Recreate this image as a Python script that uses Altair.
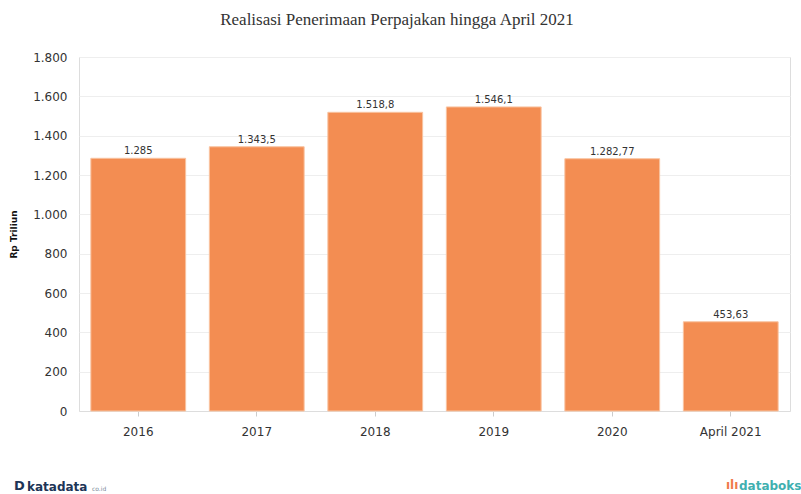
import altair as alt
import pandas as pd

categories = ["2016", "2017", "2018", "2019", "2020", "April 2021"]
values = [1285, 1343.5, 1518.8, 1546.1, 1282.77, 453.63]
value_labels = ["1.285", "1.343,5", "1.518,8", "1.546,1", "1.282,77", "453,63"]
y_ticks = [0, 200, 400, 600, 800, 1000, 1200, 1400, 1600, 1800]

df = pd.DataFrame({"cat": categories, "val": values, "lab": value_labels})

x = alt.X("cat:N", sort=categories, title=None,
          scale=alt.Scale(paddingInner=0.2, paddingOuter=0.1),
          axis=alt.Axis(labelAngle=0, labelFont="DejaVu Sans", labelFontSize=12,
                        labelColor="#333333", labelPadding=10, tickColor="#cccccc",
                        tickSize=5, domainColor="#dddddd", grid=False))
y = alt.Y("val:Q", title="Rp Triliun",
          scale=alt.Scale(domain=[0, 1800], nice=False),
          axis=alt.Axis(values=y_ticks, labelFont="DejaVu Sans", labelFontSize=12,
                        labelColor="#333333", labelPadding=12, ticks=False, domain=False,
                        gridColor="#eeeeee", labelOverlap=False,
                        labelExpr="replace(format(datum.value, ','), ',', '.')",
                        titleFont="DejaVu Sans", titleFontSize=9, titleFontWeight="bold",
                        titleColor="#111111", titlePadding=14))

base = alt.Chart(df)
bars = base.mark_bar(color="#F38D52", stroke="#F9C3A0", strokeWidth=1).encode(x=x, y=y)
labels = base.mark_text(dy=-7, font="DejaVu Sans", fontSize=10, color="#333333").encode(
    x=x, y=y, text="lab:N")

title = alt.Chart(pd.DataFrame({"t": ["Realisasi Penerimaan Perpajakan hingga April 2021"]})).mark_text(
    font="Liberation Serif", fontSize=17, color="#333333", align="center", baseline="middle"
).encode(x=alt.value(318), y=alt.value(-37), text="t:N")

logo1 = alt.Chart(pd.DataFrame({"t": ["D"]})).mark_text(
    font="DejaVu Sans", fontSize=13, fontWeight="bold", color="#1d3557", align="left", baseline="middle"
).encode(x=alt.value(-65), y=alt.value(429), text="t:N")
logo2 = alt.Chart(pd.DataFrame({"t": ["katadata"]})).mark_text(
    font="DejaVu Sans", fontSize=12, fontWeight="bold", color="#1d3557", align="left", baseline="middle"
).encode(x=alt.value(-52), y=alt.value(430), text="t:N")
logo3 = alt.Chart(pd.DataFrame({"t": ["co.id"]})).mark_text(
    font="DejaVu Sans", fontSize=6, color="#7a8a9a", align="left", baseline="middle"
).encode(x=alt.value(13), y=alt.value(432), text="t:N")
logo4 = alt.Chart(pd.DataFrame({"t": ["databoks"]})).mark_text(
    font="DejaVu Sans", fontSize=12, fontWeight="bold", color="#3fb0b0", align="left", baseline="middle"
).encode(x=alt.value(660), y=alt.value(429), text="t:N")
logo5 = alt.Chart(pd.DataFrame({"t": ["ılı"]})).mark_text(
    font="DejaVu Sans", fontSize=12, fontWeight="bold", color="#f07a4a", align="left", baseline="middle"
).encode(x=alt.value(647), y=alt.value(428), text="t:N")

chart = alt.layer(bars, labels, title, logo1, logo2, logo3, logo4, logo5).properties(
    width=711, height=354,
    autosize=alt.AutoSizeParams(type="none"),
    padding={"left": 79, "top": 57, "right": 11, "bottom": 83},
).configure_view(strokeWidth=0, stroke="transparent").configure(background="white")

chart.save("out.html", embed_options={"renderer": "svg", "actions": False})
